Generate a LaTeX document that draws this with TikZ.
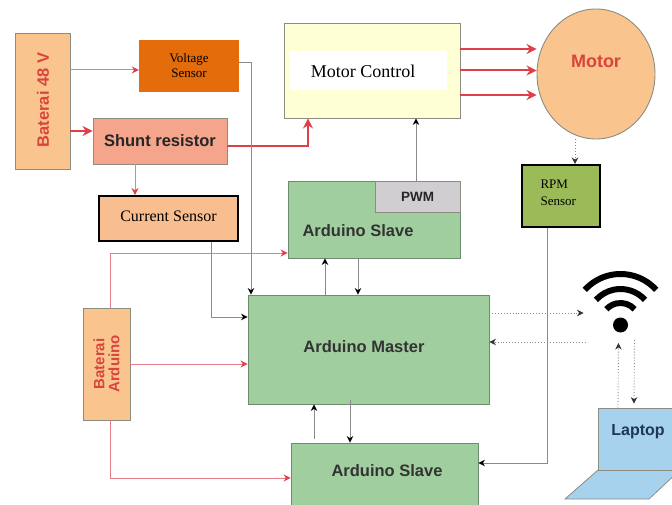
\documentclass[tikz,border=0pt]{standalone}
\usepackage{fontspec}
\usepackage{xcolor}
\setmainfont{Liberation Serif}
\setsansfont{Liberation Sans}
\usetikzlibrary{shapes.geometric}
\usetikzlibrary{arrows.meta}
\usetikzlibrary{positioning,calc}
\definecolor{boxline}{HTML}{8C8C80}
\definecolor{wirered}{HTML}{DF3F48}
\definecolor{wirepink}{HTML}{E5808A}
\definecolor{wiregray}{HTML}{8A8A8A}
\definecolor{labelred}{HTML}{D8453C}
\definecolor{boardgreen}{HTML}{A1CE9F}
\definecolor{boardline}{HTML}{6E8C70}
\definecolor{peach}{HTML}{FAC48F}
\tikzset{
  block/.style={draw=boxline, line width=0.9pt, inner sep=0pt},
  board/.style={draw=boardline, line width=0.9pt, fill=boardgreen, inner sep=0pt},
  sensorbox/.style={draw=black, line width=2pt, inner sep=0pt},
  boldtext/.style={font=\sffamily\bfseries\fontsize{#1}{#1}\selectfont},
  serif/.style={font=\fontsize{#1}{#1}\selectfont},
  thinred/.style={draw=wirepink, line width=1pt, -{Stealth[wirered,length=7pt,width=7pt]}},
  thickred/.style={draw=wirered, line width=2pt, -{Stealth[wirered,length=10pt,width=10pt]}},
  grayline/.style={draw=wiregray, line width=1pt, -{Stealth[black,length=6.5pt,width=6.5pt]}},
  dottedline/.style={draw=wiregray, line width=0.9pt, dotted, -{Stealth[black!80,length=6.5pt,width=6.5pt]}}
}
\begin{document}
\begin{tikzpicture}[x=1pt, y=-1pt]
  \useasboundingbox (0,0) rectangle (672,505);
  % ===== Power and sensors =====
  \node[block, fill=peach, minimum width=55pt, minimum height=136pt] (bat48) at (42.5,101) {};
  \node[boldtext=16.5, text=labelred, rotate=90] (bat48text) at (43,100) {Baterai 48 V};
  \node[fill={rgb,255:red,228;green,108;blue,10}, inner sep=0pt, minimum width=100pt, minimum height=52pt,
        align=center, serif=13] (volt) at (189,66) {Voltage\\[2pt]Sensor};
  \node[block, fill={rgb,255:red,244;green,165;blue,140}, minimum width=134pt, minimum height=46pt,
        boldtext=16.5, text=black!85] (shunt) at (160,141) {Shunt resistor};
  \node[sensorbox, fill={rgb,255:red,249;green,190;blue,143}, minimum width=139pt, minimum height=45pt] (curr) at (168.5,218.5) {};
  \node[serif=16] (currtext) at (168.5,216.5) {Current Sensor};

  % ===== Motor side =====
  \node[block, fill={rgb,255:red,255;green,255;blue,213}, minimum width=176pt, minimum height=95pt] (mc) at (372,70.5) {};
  \node[fill=white, inner sep=0pt, minimum width=157pt, minimum height=39pt] (mcwhite) at (368.5,71) {};
  \node[serif=18] (mctext) at (363,71) {Motor Control};
  \node[ellipse, block, fill=peach, minimum width=118pt, minimum height=130pt] (motor) at (596,74) {};
  \node[boldtext=18, text=labelred] (motortext) at (596,61) {Motor};
  \node[sensorbox, fill={rgb,255:red,155;green,187;blue,89}, minimum width=78pt, minimum height=62pt] (rpm) at (561,196) {};
  \node[serif=13, align=left, right=0pt of rpm.west, xshift=16pt, yshift=3pt] (rpmtext) {RPM\\[4pt]Sensor};

  % ===== Arduino boards =====
  \node[board, minimum width=172pt, minimum height=77pt] (slavetop) at (374,219.5) {};
  \node[block, fill={rgb,255:red,208;green,206;blue,208}, minimum width=85pt, minimum height=31pt, boldtext=13.5, text=black!85] (pwm) at (417.5,196.5) {PWM};
  \node[boldtext=16.5, text=black!80] (slavetoptext) at (358,231) {Arduino Slave};
  \node[board, minimum width=241pt, minimum height=109pt] (master) at (368.5,349.5) {};
  \node[boldtext=16.5, text=black!80] (mastertext) at (364,347) {Arduino Master};
  \node[board, minimum width=187pt, minimum height=70pt] (slavebot) at (384.5,478) {};
  \node[boldtext=16.5, text=black!80] (slavebottext) at (387,471) {Arduino Slave};
  \node[block, fill=peach, minimum width=47pt, minimum height=112pt] (batard) at (106.5,364) {};
  \node[boldtext=15, text=labelred, rotate=90, align=center, inner sep=0pt] (batardtext) at (106.5,364) {Baterai\\Arduino};

  % ===== Wifi =====
  \coordinate (wifi) at (620.5,325);
  \fill[black] (wifi) circle (7.5pt);
  \foreach \r in {19,33,48}
    \draw[black, line width=6pt] ($(wifi)+(0,-3)+(42:\r pt)$) arc (42:138:\r pt);

  % ===== Laptop =====
  \fill[fill={rgb,255:red,166;green,210;blue,238}, draw=boxline, line width=0.8pt]
    (598,470) -- (565,499) -- (649,499) -- (680,470) -- cycle;
  \node[draw=boxline, line width=0.8pt, fill={rgb,255:red,166;green,210;blue,238}, minimum width=80pt, minimum height=62pt, inner sep=0pt] (laptop) at (638,439) {};
  \node[boldtext=16, text={rgb,255:red,30;green,55;blue,85}] (laptoptext) at (638,432) {Laptop};

  % ===== Red wires =====
  \draw[thinred] ([yshift=-4pt]volt.west -| bat48.east) -- ([yshift=-4pt]volt.west);
  \draw[thickred] ([yshift=10pt]shunt.west -| bat48.east) -- ([yshift=10pt]shunt.west);
  \draw[thinred] ([xshift=-25pt]shunt.south) -- ([xshift=-25pt]shunt.south |- curr.north);
  \draw[thickred] ([yshift=-5pt]shunt.east) -| ([xshift=-64pt]mc.south);
  \foreach \dy in {21.5,0,-24.5}
    \draw[thickred] ([yshift=\dy pt]mc.east) -- ([yshift=\dy pt]mc.east -| motor.west);
  \draw[thinred] ([xshift=3.5pt]batard.north) |- ([yshift=-33.5pt]slavetop.west);
  \draw[thinred] (batard.east) -- (batard.east -| master.west);
  \draw[thinred] ([xshift=3.5pt]batard.south) |- (slavebot.west);

  % ===== Signal wires =====
  \draw[grayline] ([yshift=3pt]volt.east) -| ([xshift=-117.5pt]master.north);
  \draw[grayline] ([xshift=42.5pt]curr.south) |- ([yshift=32.5pt]master.west);
  \draw[grayline] ([xshift=44pt]mc.south |- pwm.north) -- ([xshift=44pt]mc.south);
  \draw[grayline] ([xshift=-43.5pt]master.north) -- ([xshift=-49pt]slavetop.south);
  \draw[grayline] ([xshift=-16pt]slavetop.south) -- ([xshift=-10.5pt]master.north);
  \draw[grayline] ([xshift=-70.5pt,yshift=4pt]slavebot.north) -- ([xshift=-54.5pt]master.south);
  \draw[grayline] ([xshift=-18.5pt,yshift=4pt]master.south) -- ([xshift=-34.5pt]slavebot.north);
  \draw[grayline] ([xshift=-14pt]rpm.south) |- ([yshift=15pt]slavebot.east);

  % ===== Dotted links =====
  \draw[dottedline] ([xshift=-21pt]motor.south) -- ([xshift=14pt]rpm.north);
  \draw[dottedline] ([yshift=36.5pt]master.east) -- ([xshift=-37pt,yshift=12pt]wifi);
  \draw[dottedline] ([xshift=-35pt,yshift=-17pt]wifi) -- ([yshift=7.5pt]master.east);
  \draw[dottedline] ([xshift=-20pt]laptop.north) -- ([xshift=-2pt,yshift=-18pt]wifi);
  \draw[dottedline] ([xshift=14pt,yshift=-15pt]wifi) -- ([xshift=-4pt,yshift=4pt]laptop.north);
\end{tikzpicture}
\end{document}
